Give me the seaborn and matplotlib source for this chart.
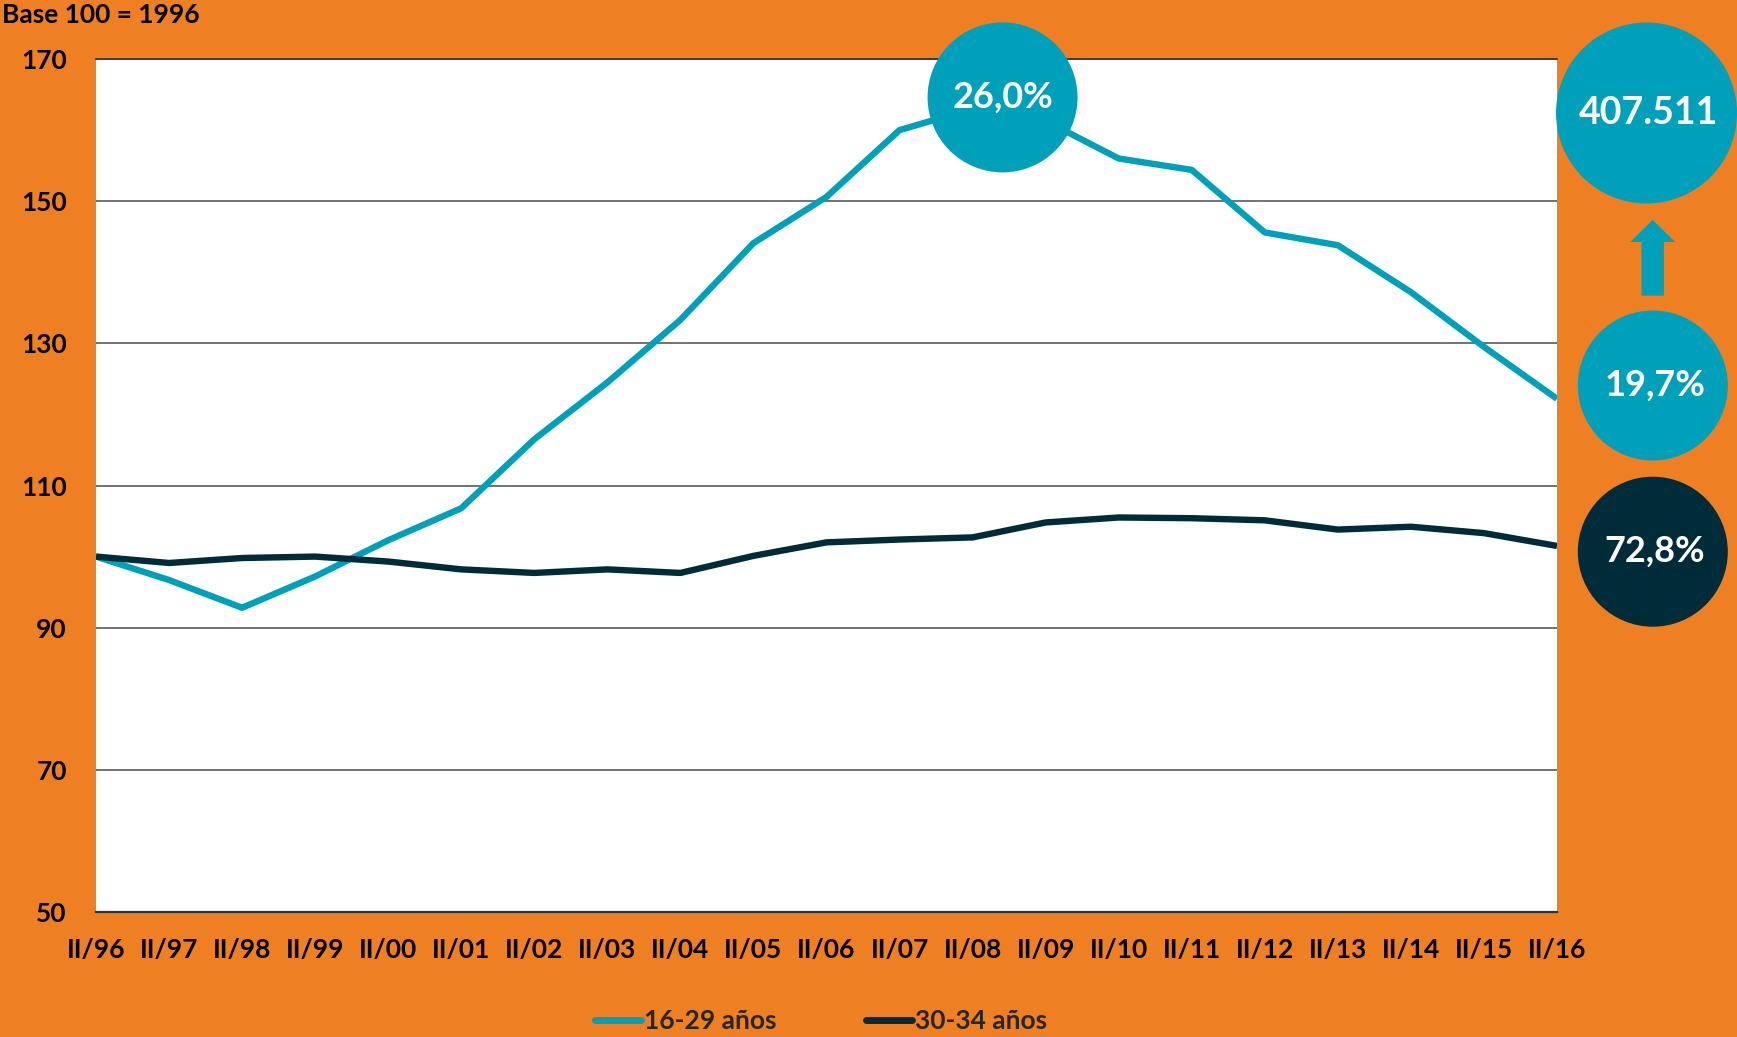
import numpy as np
import pandas as pd
import matplotlib
matplotlib.use("Agg")
import matplotlib.pyplot as plt
import seaborn as sns
from matplotlib.patches import Circle, FancyArrow
from matplotlib.lines import Line2D
from matplotlib.transforms import ScaledTranslation

# ---------------- data ----------------
periods = ["II/96", "II/97", "II/98", "II/99", "II/00", "II/01", "II/02", "II/03",
           "II/04", "II/05", "II/06", "II/07", "II/08", "II/09", "II/10", "II/11",
           "II/12", "II/13", "II/14", "II/15", "II/16"]
youth_16_29 = [100.0, 96.7, 92.8, 97.2, 102.3, 106.8, 116.5, 124.5, 133.3, 144.1,
               150.6, 160.0, 163.0, 161.3, 156.0, 154.4, 145.6, 143.8, 137.2, 129.5, 122.2]
adult_30_34 = [100.0, 99.1, 99.8, 100.0, 99.3, 98.2, 97.7, 98.2, 97.7, 100.1,
               102.0, 102.4, 102.7, 104.8, 105.5, 105.4, 105.1, 103.8, 104.2, 103.3, 101.5]
series_names = ["16-29 años", "30-34 años"]
y_ticks = [50, 70, 90, 110, 130, 150, 170]
base_label = "Base 100 = 1996"
peak_label = "26,0%"
side_labels = ["407.511", "19,7%", "72,8%"]

ORANGE = "#EE7F22"
TEAL = "#00A0BB"
NAVY = "#002B38"

sns.set_theme(style="white")
plt.rcParams["font.family"] = ["Lato", "DejaVu Sans"]
plt.rcParams["font.weight"] = "bold"
plt.rcParams["lines.solid_joinstyle"] = "round"
plt.rcParams["lines.solid_capstyle"] = "butt"

W, H = 1737, 1037
fig = plt.figure(figsize=(W / 100, H / 100), dpi=100, facecolor=ORANGE)
ax = fig.add_axes([96 / W, 1 - 912 / H, (1557 - 96) / W, (912 - 59) / H])
ax.set_facecolor("white")

n = len(periods)
df = pd.DataFrame({
    "idx": list(range(n)) * 2,
    "value": youth_16_29 + adult_30_34,
    "serie": [series_names[0]] * n + [series_names[1]] * n,
})
sns.lineplot(data=df, x="idx", y="value", hue="serie", hue_order=series_names,
             palette=[TEAL, NAVY], linewidth=4.6, ax=ax, legend=False, zorder=3)

# peak bubble (anchored to data)
peak_i = int(np.argmax(youth_16_29))
cx, cy = peak_i + 0.41, 164.6
bub = Circle((0, 0), 0.75, facecolor=TEAL, edgecolor="none", zorder=6, clip_on=False,
             transform=fig.dpi_scale_trans + ScaledTranslation(cx, cy, ax.transData))
ax.add_patch(bub)
ax.text(cx, cy, peak_label, ha="center", va="center", color="white", fontsize=26,
        fontweight="bold", zorder=7, clip_on=False)

ax.set_xlim(0, n - 1)
ax.set_ylim(50, 170)
ax.set_yticks(y_ticks)
ax.set_xticks(range(n))
ax.set_xticklabels(periods)
ax.set_xlabel("")
ax.set_ylabel("")
ax.grid(axis="y", color="#5a5a5a", linewidth=1.2)
ax.grid(axis="x", visible=False)
ax.set_axisbelow(True)
for s in ["left", "right"]:
    ax.spines[s].set_visible(False)
ax.spines["top"].set_color("#303030")
ax.spines["top"].set_linewidth(1.2)
ax.spines["bottom"].set_color("#303030")
ax.spines["bottom"].set_linewidth(1.6)
ax.tick_params(axis="y", length=0, pad=21, labelsize=19, labelcolor="black")
ax.tick_params(axis="x", length=0, pad=19, labelsize=19, labelcolor="black")
for lab in ax.get_xticklabels() + ax.get_yticklabels():
    lab.set_fontweight("bold")

# base label
fig.text(2 / W, 1 - 15 / H, base_label, ha="left", va="center", fontsize=19,
         fontweight="bold", color="black")

# legend
handles = [Line2D([0], [0], color=TEAL, lw=5, solid_capstyle="round"),
           Line2D([0], [0], color=NAVY, lw=5, solid_capstyle="round")]
fig.legend(handles, series_names, loc="center", bbox_to_anchor=(821 / W, 1 - 1021 / H),
           ncol=2, frameon=False, handlelength=1.76, handletextpad=0.1,
           columnspacing=3.4, prop={"size": 19, "weight": "bold"})

# right-hand bubbles
inch = fig.dpi_scale_trans
bubbles = [((1646.5, 113), 0.905, TEAL, side_labels[0], 27),
           ((1652.8, 385.5), 0.75, TEAL, side_labels[1], 26),
           ((1652.8, 551.7), 0.75, NAVY, side_labels[2], 26)]
for (px, py), r, col, lab, fs in bubbles:
    fig.add_artist(Circle((px / 100, (H - py) / 100), r, facecolor=col,
                          edgecolor="none", transform=inch, zorder=5))
    fig.text(px / 100 + 0.02, (H - py) / 100, lab, transform=inch, ha="center", va="center",
             color="white", fontsize=fs, fontweight="bold", zorder=6)

fig.add_artist(FancyArrow(1652.7 / 100, (H - 295.6) / 100, 0, (295.6 - 220) / 100,
                          width=0.225, head_width=0.45, head_length=0.22,
                          length_includes_head=True, facecolor=TEAL, edgecolor="none",
                          transform=inch, zorder=5))

fig.savefig("out.png", dpi=100, facecolor=ORANGE)
